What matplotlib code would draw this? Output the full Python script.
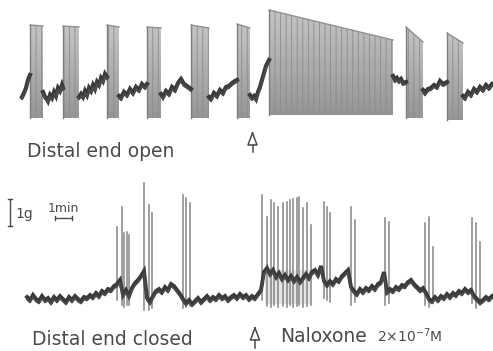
import numpy as np
import matplotlib.pyplot as plt
from matplotlib.patches import Polygon

# ----------------------------
# 1. Trace data (pixel units)
# ----------------------------
# top record: "distal end open" - bursts as (x start, x end, top left, top right, bottom)
top_bursts = [
    (30, 43, 25, 26, 118),
    (63, 79, 26, 27, 118),
    (107, 119, 25, 27, 118),
    (147, 161, 27, 28, 118),
    (191, 209, 25, 28, 118),
    (237, 250, 24, 28, 118),
    (269, 393, 10, 40, 115),
    (406, 423, 27, 42, 118),
    (447, 463, 33, 43, 120),
]

# baseline segments between the bursts
top_base_x = [
    [22, 24, 26, 28, 30],
    [43, 45, 47, 48, 50, 52, 54, 56, 58, 60, 62, 63],
    [79, 81, 83, 85, 87, 89, 91, 93, 95, 97, 99, 101, 103, 105, 107],
    [119, 121, 124, 127, 130, 133, 136, 139, 142, 145, 147],
    [161, 163, 166, 169, 172, 175, 178, 181, 184, 187, 191],
    [209, 211, 214, 217, 220, 223, 226, 229, 232, 235, 237],
    [250, 252, 254, 256, 258, 260, 262, 264, 266, 269],
    [393, 395, 397, 399, 401, 403, 406],
    [423, 425, 428, 431, 434, 437, 440, 443, 447],
    [463, 465, 468, 471, 474, 477, 480, 483, 486, 489, 492],
]
top_base_y = [
    [97, 93, 88, 80, 75],
    [92, 97, 99, 101, 95, 98, 92, 96, 88, 91, 85, 88],
    [97, 94, 97, 91, 95, 88, 91, 85, 89, 82, 85, 78, 81, 74, 77],
    [96, 98, 92, 95, 89, 93, 87, 90, 84, 87, 84],
    [94, 97, 91, 94, 87, 90, 83, 79, 84, 86, 89],
    [97, 99, 93, 96, 90, 93, 87, 86, 83, 81, 80],
    [95, 98, 96, 99, 92, 87, 80, 73, 66, 60],
    [76, 80, 78, 81, 79, 83, 82],
    [90, 93, 89, 88, 85, 87, 81, 84, 82],
    [96, 98, 92, 95, 89, 92, 87, 90, 85, 88, 84],
]

# bottom record: "distal end closed", sampled every 3 px from x=27
bot_base_x = list(range(27, 494, 3))
bot_base_y = [
    297, 300, 295, 299, 301, 296, 300, 298, 302, 297,
    300, 296, 299, 302, 297, 300, 296, 299, 301, 297,
    298, 295, 297, 293, 296, 291, 293, 289, 290, 286,
    284, 280, 295, 290, 296, 288, 283, 280, 276, 271,
    298, 302, 296, 291, 289, 292, 287, 290, 284, 286,
    290, 294, 299, 303, 300, 304, 301, 298, 302, 299,
    296, 300, 297, 299, 295, 298, 296, 300, 297, 295,
    298, 294, 297, 295, 299, 296, 298, 294, 290, 272,
    268, 274, 270, 277, 273, 279, 275, 280, 276, 281,
    277, 282, 278, 274, 278, 272, 270, 275, 266, 281,
    285, 281, 284, 279, 281, 276, 273, 270, 287, 291,
    294, 289, 292, 288, 290, 286, 289, 284, 282, 272,
    292, 289, 291, 287, 289, 285, 286, 282, 280, 284,
    287, 290, 288, 293, 299, 301, 297, 300, 296, 298,
    294, 297, 293, 295, 291, 293, 289, 292, 290, 296,
    299, 302, 300, 297, 299, 296,
]

# spikes: (x, top, bottom)
bot_spikes = [
    (117, 227, 300), (122, 207, 305), (124, 233, 307), (127, 232, 305), (129, 235, 305),
    (144, 183, 310), (149, 205, 310), (152, 213, 308),
    (183, 195, 308), (186, 198, 307), (190, 203, 306),
    (262, 195, 300), (267, 217, 306), (271, 200, 307), (274, 203, 305), (278, 207, 307),
    (283, 203, 306), (287, 202, 307), (290, 200, 305), (293, 199, 307), (297, 198, 306),
    (299, 197, 305), (303, 208, 307), (307, 203, 306), (311, 225, 305),
    (324, 202, 298), (327, 207, 300), (330, 213, 302),
    (351, 207, 305), (355, 220, 302),
    (385, 218, 305), (389, 222, 303),
    (425, 223, 305), (429, 217, 307), (433, 247, 303),
    (472, 218, 303), (476, 223, 308), (480, 242, 305),
]

# ----------------------------
# 2. Figure in pixel coordinates
# ----------------------------
fig = plt.figure(figsize=(4.93, 3.51), dpi=100)
ax = fig.add_axes([0, 0, 1, 1])
ax.set_xlim(0, 493)
ax.set_ylim(351, 0)
ax.axis("off")

ink = "#3a3a3a"
plt.rcParams["hatch.linewidth"] = 0.6

# vertical shading: lighter at the top of a burst, darker at the bottom
shade = np.linspace(0, 1, 64).reshape(-1, 1)

# top bursts
for x0, x1, t0, t1, b in top_bursts:
    poly = Polygon([(x0, b), (x0, t0), (x1, t1), (x1, b)], closed=True,
                   facecolor="none", edgecolor="none")
    ax.add_patch(poly)
    im = ax.imshow(shade, cmap="Greys", vmin=-2.3, vmax=4.3, aspect="auto",
                   extent=(x0, x1, b, min(t0, t1)), zorder=1)
    im.set_clip_path(poly)
    ax.fill([x0, x0, x1, x1], [b, t0, t1, b], facecolor="none", edgecolor="#8c8c8c",
            hatch="|||", linewidth=0, zorder=2)
    ax.plot([x0, x1], [t0, t1], color="#909090", lw=1, zorder=2)
    ax.plot([x0, x0], [b, t0], color="#7e7e7e", lw=1, zorder=2)

# top baseline
for xs, ys in zip(top_base_x, top_base_y):
    ax.plot(xs, ys, color=ink, lw=3, solid_joinstyle="miter", zorder=3)
    ax.plot(xs, [y + 2 for y in ys], color="#4a4a4a", lw=1.5, zorder=3)

# faint haze behind the dense naloxone burst
ax.fill_between([265, 311], 270, 304, color="#e6e6e6", lw=0, zorder=1)

# bottom spikes
for x, t, b in bot_spikes:
    ax.plot([x, x], [b, t], color="#858585", lw=1.1, zorder=2)

# bottom baseline
ax.plot(bot_base_x, bot_base_y, color=ink, lw=2.8, solid_joinstyle="miter", zorder=3)
ax.plot(bot_base_x, [y + 2.5 for y in bot_base_y], color="#4a4a4a", lw=1.3, zorder=3)

# ----------------------------
# 3. Labels, arrows, scale bars
# ----------------------------
txt = "#4a4a4a"
ax.text(27, 157, "Distal end open", fontsize=13.5, color=txt, va="baseline")
ax.text(32, 345, "Distal end closed", fontsize=13.5, color=txt, va="baseline")
ax.text(280, 342, "Naloxone", fontsize=13.5, color=txt, va="baseline")
ax.text(377, 342, r"2$\times$10$^{-7}$M", fontsize=10, color=txt, va="baseline")


def open_arrow(x, y_top, y_bot):
    ax.plot([x, x - 4.5, x + 4.5, x], [y_top, y_top + 12, y_top + 12, y_top],
            color=txt, lw=1.1)
    ax.plot([x, x], [y_top + 12, y_bot], color=txt, lw=1.1)


open_arrow(252.5, 133, 152)
open_arrow(255, 328, 348)

# 1 g bar
ax.plot([10, 10], [199, 226], color=txt, lw=1)
ax.plot([8, 12], [199, 199], color=txt, lw=1)
ax.plot([8, 12], [226, 226], color=txt, lw=1)
ax.text(15, 218, "1g", fontsize=10, color=txt, va="baseline")

# 1 min bar
ax.text(48, 212, "1min", fontsize=9, color=txt, va="baseline")
ax.plot([55, 72], [218, 218], color=txt, lw=1)
ax.plot([55, 55], [216, 220], color=txt, lw=1)
ax.plot([72, 72], [216, 220], color=txt, lw=1)

ax.set_xlim(0, 493)
ax.set_ylim(351, 0)

plt.savefig("out.png", dpi=100)
plt.close()
